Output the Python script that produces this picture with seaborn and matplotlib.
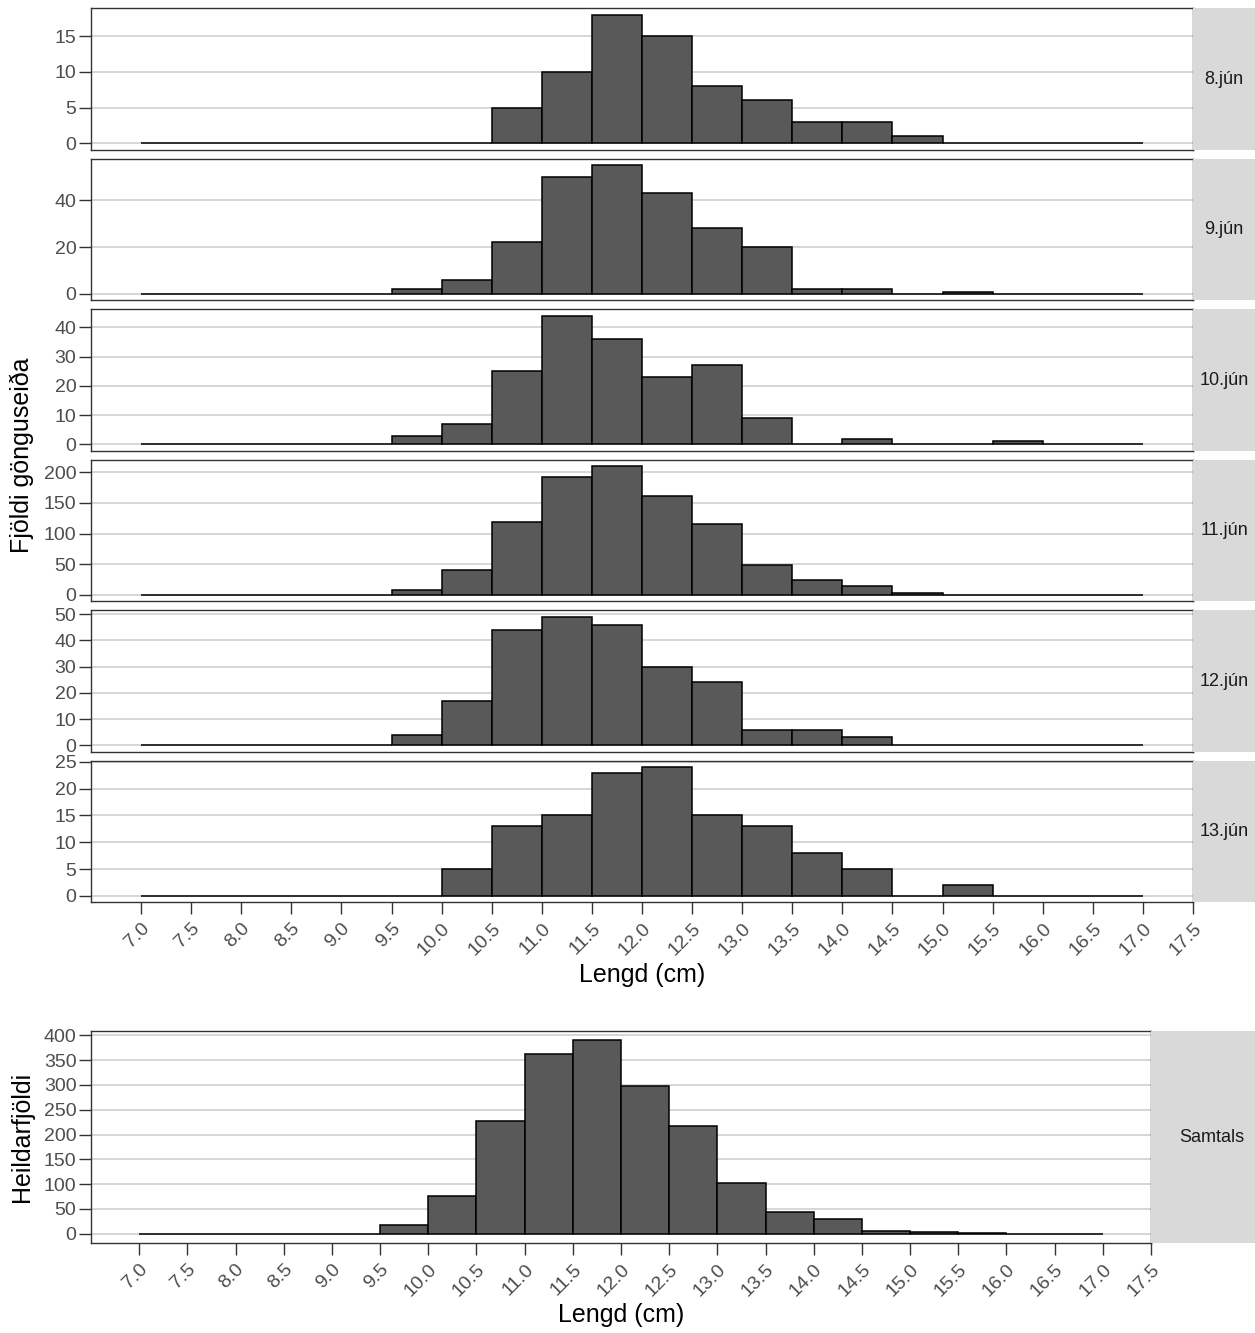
import numpy as np
import pandas as pd
import seaborn as sns
import matplotlib
matplotlib.use("Agg")
import matplotlib.pyplot as plt
from matplotlib.ticker import MultipleLocator

# Length classes (cm): lower edges of 0.5 cm bins from 7.0 to 17.0
bin_edges = [7.0 + 0.5 * i for i in range(21)]

# Counts of smolts per length class for each day
dates = ["8.jún", "9.jún", "10.jún", "11.jún", "12.jún", "13.jún"]
#               7.0 7.5 8.0 8.5 9.0 9.5 10.0 10.5 11.0 11.5 12.0 12.5 13.0 13.5 14.0 14.5 15.0 15.5 16.0 16.5
count_jun08 = [0, 0, 0, 0, 0, 0, 0, 5, 10, 18, 15, 8, 6, 3, 3, 1, 0, 0, 0, 0]
count_jun09 = [0, 0, 0, 0, 0, 2, 6, 22, 50, 55, 43, 28, 20, 2, 2, 0, 1, 0, 0, 0]
count_jun10 = [0, 0, 0, 0, 0, 3, 7, 25, 44, 36, 23, 27, 9, 0, 2, 0, 0, 1, 0, 0]
count_jun11 = [0, 0, 0, 0, 0, 8, 40, 119, 193, 210, 161, 115, 48, 24, 14, 3, 0, 0, 0, 0]
count_jun12 = [0, 0, 0, 0, 0, 4, 17, 44, 49, 46, 30, 24, 6, 6, 3, 0, 0, 0, 0, 0]
count_jun13 = [0, 0, 0, 0, 0, 0, 5, 13, 15, 23, 24, 15, 13, 8, 5, 0, 2, 0, 0, 0]
count_total = [0, 0, 0, 0, 0, 17, 75, 228, 362, 390, 297, 218, 103, 44, 29, 5, 4, 2, 0, 0]

y_steps = [5, 20, 10, 50, 10, 5]
total_step = 50

x_ticks = [7.0 + 0.5 * i for i in range(22)]
x_tick_labels = [f"{t:.1f}" for t in x_ticks]

daily = [count_jun08, count_jun09, count_jun10, count_jun11, count_jun12, count_jun13]

sns.set_theme(style="white")
plt.rcParams["font.family"] = ["Liberation Sans", "DejaVu Sans"]

W, H = 1255, 1333
fig = plt.figure(figsize=(W / 100, H / 100), dpi=100)

TICK_COL = "#4D4D4D"
BORDER_COL = "#333333"
GRID_COL = "#D6D6D6"
STRIP_COL = "#D9D9D9"
TICK_SIZE = 14


def px_axes(x0, y0, x1, y1):
    return fig.add_axes([x0 / W, 1 - y1 / H, (x1 - x0) / W, (y1 - y0) / H])


def draw_panel(ax, counts, step, show_x):
    centers = [e + 0.25 for e in bin_edges[:-1]]
    df = pd.DataFrame({"lengd": centers, "n": counts})
    sns.histplot(data=df, x="lengd", weights="n", bins=bin_edges, ax=ax,
                 color="#595959", edgecolor="black", linewidth=1.1,
                 alpha=1, zorder=3)
    ymax = max(counts)
    ax.set_xlim(6.5, 17.5)
    ax.set_ylim(-0.05 * ymax, 1.05 * ymax)
    ax.yaxis.set_major_locator(MultipleLocator(step))
    ax.grid(axis="y", which="major", color=GRID_COL, linewidth=1.4, zorder=0)
    ax.grid(axis="x", visible=False)
    ax.set_axisbelow(True)
    ax.set_xlabel("")
    ax.set_ylabel("")
    for sp in ax.spines.values():
        sp.set_color(BORDER_COL)
        sp.set_linewidth(1.0)
    ax.tick_params(axis="y", which="major", left=True, length=8.5, width=1.0,
                   color=BORDER_COL, labelsize=TICK_SIZE, labelcolor=TICK_COL,
                   pad=2)
    if show_x:
        ax.set_xticks(x_ticks)
        ax.set_xticklabels(x_tick_labels, rotation=45, ha="right", va="top",
                           rotation_mode="anchor")
        ax.tick_params(axis="x", which="major", bottom=True, length=8.5,
                       width=1.0, color=BORDER_COL, labelsize=TICK_SIZE,
                       labelcolor=TICK_COL, pad=4)
    else:
        ax.set_xticks([])


def draw_strip(x0, y0, x1, y1, label, text_x=0.5):
    sax = px_axes(x0, y0, x1, y1)
    sax.set_facecolor(STRIP_COL)
    sax.set_xticks([])
    sax.set_yticks([])
    for sp in sax.spines.values():
        sp.set_visible(False)
    sax.text(text_x, 0.5, label, ha="center", va="center", fontsize=13,
             color="#1A1A1A", transform=sax.transAxes)


# Daily panels
top0, pitch, ph = 8.3, 150.5, 141.5
for i, (counts, step, lab) in enumerate(zip(daily, y_steps, dates)):
    y0 = top0 + i * pitch
    ax = px_axes(91, y0, 1193, y0 + ph)
    draw_panel(ax, counts, step, show_x=(i == len(daily) - 1))
    draw_strip(1193, y0, 1255, y0 + ph, lab)

fig.text(642 / W, 1 - 975 / H, "Lengd (cm)", ha="center", va="center",
         fontsize=18, color="black")
fig.text(22 / W, 1 - 455 / H, "Fjöldi gönguseiða", ha="center", va="center",
         rotation=90, fontsize=18, color="black")

# Totals panel
axt = px_axes(91, 1030.7, 1151, 1243.3)
draw_panel(axt, count_total, total_step, show_x=True)
draw_strip(1151, 1030.7, 1255, 1243.3, "Samtals", text_x=0.58)

fig.text(621 / W, 1 - 1315 / H, "Lengd (cm)", ha="center", va="center",
         fontsize=18, color="black")
fig.text(22 / W, 1 - 1137 / H, "Heildarfjöldi", ha="center", va="center",
         rotation=90, fontsize=18, color="black")

fig.savefig("out.png", dpi=100, facecolor="white")
